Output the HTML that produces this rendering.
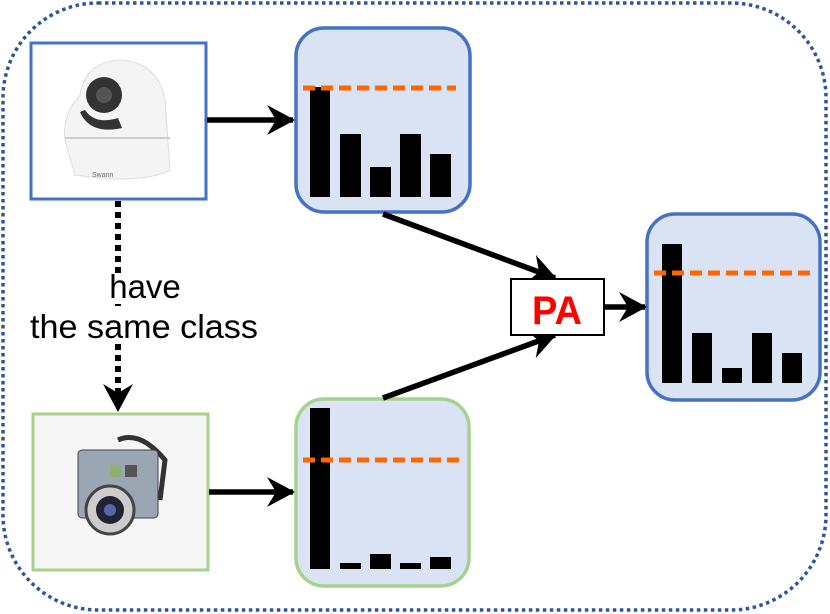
<!DOCTYPE html>
<html><head><style>html,body{margin:0;padding:0;background:#fff}svg{display:block}</style></head>
<body>
<svg width="830" height="614" viewBox="0 0 830 614" xmlns="http://www.w3.org/2000/svg">
<defs>
<marker id="ah2" viewBox="0 0 28 30" refX="26" refY="15" markerWidth="28" markerHeight="30" markerUnits="userSpaceOnUse" orient="auto">
<path d="M0,0 L28,15 L0,30 L9,15 Z" fill="#000"/></marker>
</defs>
<rect x="3" y="3" width="823" height="607" rx="95" fill="none" stroke="#2f5597" stroke-width="3.5" stroke-dasharray="3.5 3.5"/>

<rect x="31" y="43" width="175" height="156" fill="#fff" stroke="#4472c4" stroke-width="3"/>
<path d="M80 95 Q85 62 120 60 Q158 62 165 100 L170 170 Q140 185 75 175 L65 140 Q62 115 80 95Z" fill="#f4f4f4" stroke="#ddd"/>
<circle cx="104" cy="95" r="18" fill="#333"/><circle cx="104" cy="95" r="8" fill="#555"/>
<path d="M80 112 Q90 135 122 128 L118 118 Q95 125 85 110Z" fill="#333"/>
<line x1="65" y1="138" x2="170" y2="138" stroke="#ccc" stroke-width="2"/>
<text x="92" y="177" font-family="Liberation Sans,sans-serif" font-size="7" fill="#666">Swann</text>

<rect x="33" y="414" width="175" height="156" fill="#f6f6f6" stroke="#a9d18e" stroke-width="3"/>
<path d="M118 440 Q140 430 165 460 L160 500" fill="none" stroke="#333" stroke-width="5"/>
<rect x="78" y="450" width="80" height="68" rx="4" fill="#9aa6b4" stroke="#444"/>
<rect x="110" y="465" width="12" height="12" fill="#8bb070"/><rect x="125" y="465" width="12" height="12" fill="#555"/>
<circle cx="110" cy="510" r="24" fill="#ccc" stroke="#444" stroke-width="3"/><circle cx="110" cy="510" r="14" fill="#223"/><circle cx="110" cy="510" r="6" fill="#56a"/>

<rect x="296" y="28" width="174" height="184" rx="28" fill="#dae3f3" stroke="#4472c4" stroke-width="3.5"/>
<rect x="296" y="399" width="173" height="187" rx="28" fill="#dae3f3" stroke="#a9d18e" stroke-width="3.5"/>
<rect x="647" y="214" width="173" height="186" rx="28" fill="#dae3f3" stroke="#4472c4" stroke-width="3.5"/>
<g fill="#000">
<rect x="310" y="87" width="20" height="110"/><rect x="340" y="134" width="21" height="63"/><rect x="370" y="167" width="21" height="30"/><rect x="400" y="134" width="21" height="63"/><rect x="430" y="154" width="21" height="43"/>
<rect x="310" y="408" width="20" height="161"/><rect x="340" y="563" width="21" height="6"/><rect x="370" y="554" width="21" height="15"/><rect x="400" y="563" width="21" height="6"/><rect x="430" y="557" width="21" height="12"/>
<rect x="662" y="244" width="20" height="139"/><rect x="692" y="333" width="20" height="50"/><rect x="722" y="368" width="20" height="15"/><rect x="752" y="333" width="20" height="50"/><rect x="782" y="353" width="20" height="30"/>
</g>
<g stroke="#ff6600" stroke-width="5" stroke-dasharray="12 6">
<line x1="303" y1="88" x2="456" y2="88"/><line x1="303" y1="460" x2="459" y2="460"/><line x1="654" y1="273" x2="810" y2="273"/>
</g>

<g stroke="#000" stroke-width="5.5" fill="none">
<line x1="207" y1="120" x2="293" y2="120" marker-end="url(#ah2)"/>
<line x1="209" y1="492" x2="293" y2="492" marker-end="url(#ah2)"/>
<line x1="383" y1="214" x2="555" y2="278" marker-end="url(#ah2)"/>
<line x1="383" y1="398" x2="555" y2="335" marker-end="url(#ah2)"/>
<line x1="605" y1="307" x2="645" y2="307" marker-end="url(#ah2)"/>
<line x1="118" y1="201" x2="118" y2="410" stroke-width="6" stroke-dasharray="6 5" marker-end="url(#ah2)"/>
</g>
<rect x="511" y="279" width="93" height="56" fill="#fff" stroke="#000" stroke-width="2"/>
<text x="557" y="324" text-anchor="middle" font-family="Liberation Sans,sans-serif" font-weight="bold" font-size="40" fill="#ff0000" textLength="50" lengthAdjust="spacingAndGlyphs">PA</text>
<rect x="108" y="274" width="76" height="30" fill="#fff"/>
<rect x="28" y="308" width="234" height="36" fill="#fff"/>
<text x="145" y="298" text-anchor="middle" font-family="Liberation Sans,sans-serif" font-size="33" fill="#000">have</text>
<text x="144" y="338" text-anchor="middle" font-family="Liberation Sans,sans-serif" font-size="33" fill="#000" textLength="228" lengthAdjust="spacingAndGlyphs">the same class</text>
</svg>
</body></html>
